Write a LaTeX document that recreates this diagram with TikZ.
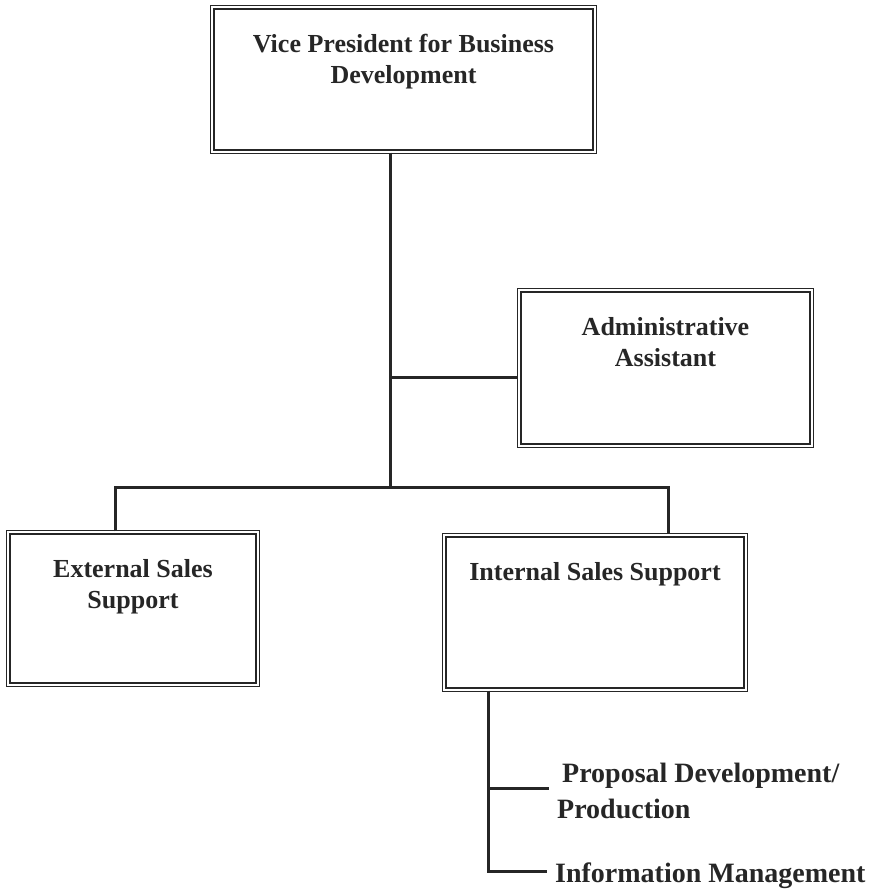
\documentclass[tikz,border=0pt]{standalone}
\usepackage{fontspec}
\setmainfont{Liberation Serif}
\usepackage{tikz}
\usetikzlibrary{positioning}
\definecolor{ink}{gray}{0.15}
\tikzset{box/.style={rectangle,draw=ink,double,double distance=1.8pt,line width=1.6pt,inner sep=0pt},
         boxtext/.style={font=\bfseries\fontsize{26}{31}\selectfont,text=ink,align=center,inner sep=0pt},
         item/.style={font=\bfseries\fontsize{28}{36}\selectfont,text=ink,align=left,inner xsep=8pt,inner ysep=0pt},
         link/.style={draw=ink,line width=3pt}}

\begin{document}
\begin{tikzpicture}[x=1pt,y=-1pt]
    \useasboundingbox (0,0) rectangle (880,894);
    % Boxes
    \node (vp) at (403.5,79.5) [box,minimum width=382.6pt,minimum height=144.6pt,
        label={[boxtext,below=28pt]north:{Vice President for Business\\Development}}]{};
    \node (adm) at (665.5,368) [box,minimum width=292.6pt,minimum height=155.6pt,
        label={[boxtext,below=28pt]north:{Administrative\\Assistant}}]{};
    \node (ext) at (133,608.5) [box,minimum width=249.6pt,minimum height=152.6pt,
        label={[boxtext,below=28pt]north:{External Sales\\Support}}]{};
    \node (int) at (595,612.5) [box,minimum width=301.6pt,minimum height=154.6pt,
        label={[boxtext,below=28pt]north:{Internal Sales Support}}]{};
    % Sections under internal sales
    \node (pdp) at (549,763) [item,anchor=north west]{\hspace*{5pt}Proposal Development/\\Production};
    \node (im) at (547,882) [item,anchor=base west]{Information Management};
    % Joints
    \coordinate (trunk) at (390,487);
    \coordinate (admjoin) at (390,377);
    \coordinate (extdrop) at (115,487);
    \coordinate (intdrop) at (668,487);
    \coordinate (stem) at (488,780);
    % Lines
    \draw[link] (vp.south -| trunk) -- (trunk);
    \draw[link] (admjoin) -- (admjoin -| adm.west);
    \draw[link] (ext.north -| extdrop) -- (extdrop) -- (intdrop) -- (int.north -| intdrop);
    \draw[link] (int.south -| stem) -- ([yshift=4pt]im.west -| stem) -- ([yshift=4pt]im.west);
    \draw[link] ([yshift=3pt]pdp.west -| stem) -- ([yshift=3pt]pdp.west);
\end{tikzpicture}
\end{document}
